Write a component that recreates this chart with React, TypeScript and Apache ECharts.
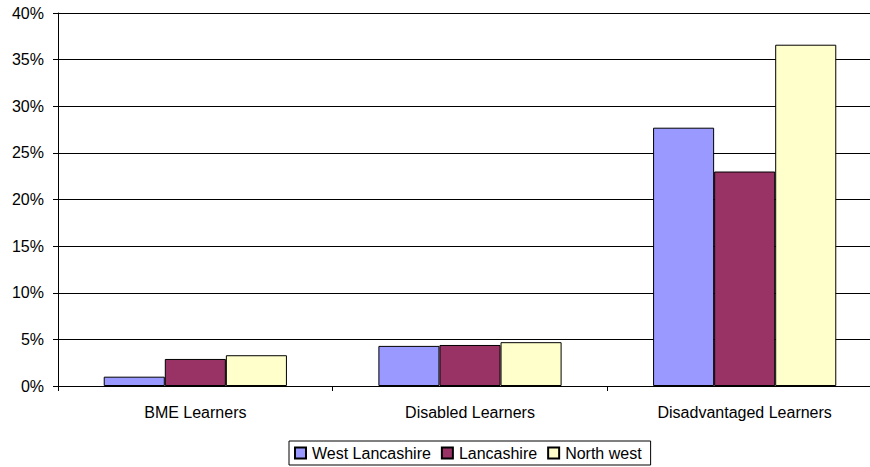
import React, { useEffect, useRef } from "react";
import * as echarts from "echarts";

const categories = ["BME Learners", "Disabled Learners", "Disadvantaged Learners"];
const westLancashire = [1.0, 4.3, 27.7];
const lancashire = [2.9, 4.4, 23.0];
const northWest = [3.3, 4.7, 36.6];
const seriesNames = ["West Lancashire", "Lancashire", "North west"];
const colors = ["#9999FF", "#993366", "#FFFFCC"];

export default function App() {
  const ref = useRef<HTMLDivElement>(null);
  useEffect(() => {
    if (!ref.current) return;
    const chart = echarts.init(ref.current, null, { renderer: "svg" });
    const font = "Arial, 'Liberation Sans', sans-serif";
    const data = [westLancashire, lancashire, northWest];
    chart.setOption({
      animation: false,
      grid: { left: 58, width: 824, top: 13, bottom: 81, containLabel: false, outerBoundsMode: "none" },
      legend: {
        top: 441,
        left: 289,
        itemWidth: 11,
        itemHeight: 11,
        itemGap: 10,
        icon: "rect",
        padding: [4, 9, 4, 5],
        borderColor: "#000",
        borderWidth: 1,
        textStyle: { fontFamily: font, fontSize: 16, color: "#000", padding: [0, 0, 0, 1] },
        data: seriesNames,
      },
      xAxis: {
        type: "category",
        data: categories,
        axisLine: { lineStyle: { color: "#000", width: 1 } },
        axisTick: { show: true, length: 5, lineStyle: { color: "#000" } },
        axisLabel: { fontFamily: font, fontSize: 16, color: "#000", margin: 18 },
      },
      yAxis: {
        type: "value",
        min: 0,
        max: 40,
        interval: 5,
        axisLine: { show: true, lineStyle: { color: "#000", width: 1 } },
        axisTick: { show: true, length: 5, lineStyle: { color: "#000" } },
        axisLabel: { fontFamily: font, fontSize: 16, color: "#000", margin: 14, formatter: "{value}%" },
        splitLine: { show: true, lineStyle: { color: "#000", width: 1 } },
      },
      series: seriesNames.map((name, i) => ({
        name,
        type: "bar",
        data: data[i],
        barGap: "0%",
        barCategoryGap: "33.3%",
        itemStyle: { color: colors[i], borderColor: "#000", borderWidth: 1 },
      })),
    });
    return () => chart.dispose();
  }, []);
  return <div ref={ref} style={{ width: 870, height: 467, position: "absolute", left: 0, top: 0 }} />;
}
